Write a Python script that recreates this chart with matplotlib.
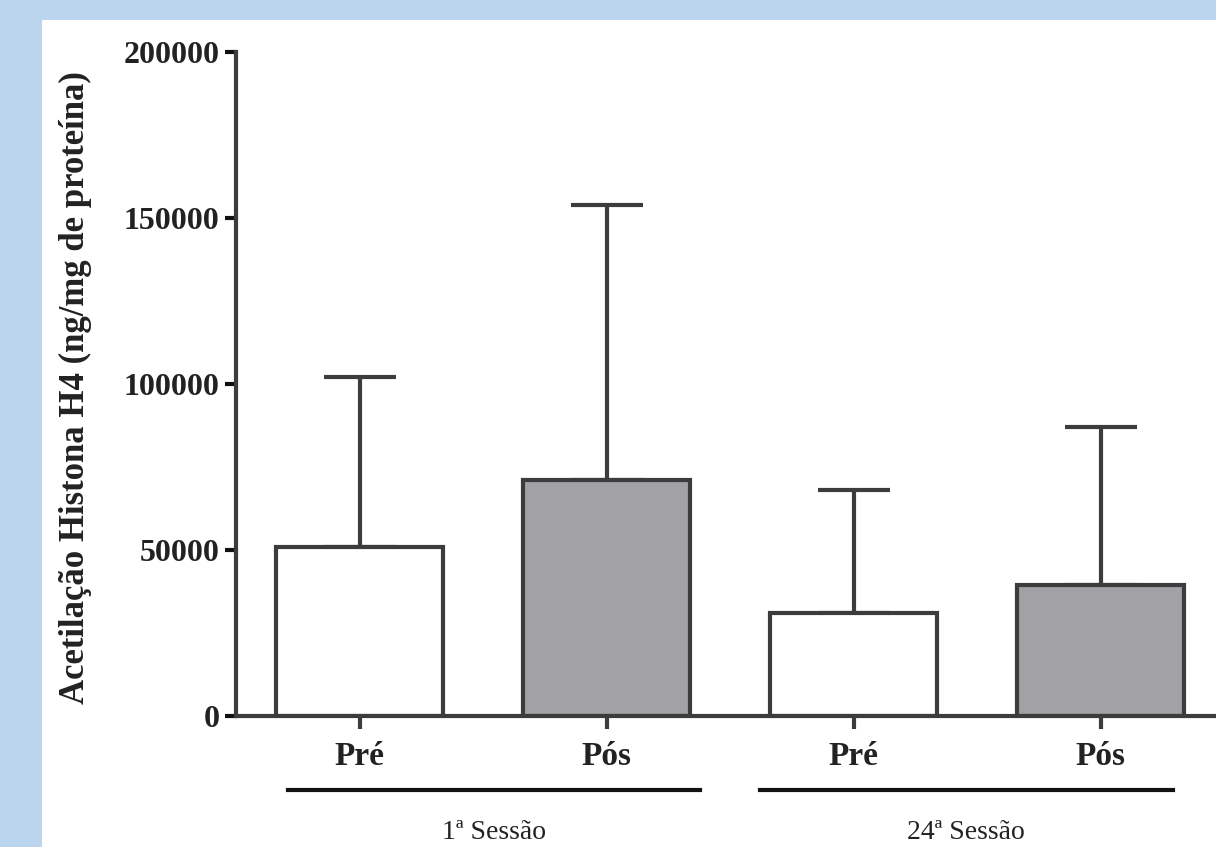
#--Import libraries--#
import numpy as np
import matplotlib.pyplot as plt
import matplotlib.transforms as mtransforms
from matplotlib.patches import Rectangle

#--Data--#
conditions = ['Pré', 'Pós', 'Pré', 'Pós']
sessions = ['1ª Sessão', '24ª Sessão']
means = [51000, 71000, 31000, 39500]
sd = [51000, 83000, 37000, 47500]
yticks = [0, 50000, 100000, 150000, 200000]

plt.rcParams['font.family'] = ['Liberation Serif', 'DejaVu Serif']

fig = plt.figure(figsize=(12.16, 8.47), dpi=100)
fig.patch.set_facecolor('#bad5ed')
# white panel inside the light blue frame
fig.patches.append(Rectangle((42 / 1216, 0), 1, 827 / 847, transform=fig.transFigure,
                             facecolor='white', edgecolor='none', zorder=-10))

ax = fig.add_axes([236 / 1216, 131 / 847, 1 - 236 / 1216, 664 / 847])
ax.set_facecolor('none')

x = np.arange(len(means))
dark = '#3c3c3c'
colors = ['white', '#a2a2a6', 'white', '#a2a2a6']
ax.bar(x, means, width=0.676, color=colors, edgecolor=dark, linewidth=3, zorder=3)
ax.errorbar(x, means, yerr=[np.zeros(len(sd)), sd], fmt='none', ecolor=dark,
            elinewidth=3, capsize=26, capthick=3, zorder=2)

#--Axes styling--#
ax.set_xlim(-0.5, 3.466)
ax.set_ylim(0, 200000)
ax.set_yticks(yticks)
ax.set_yticklabels([str(t) for t in yticks], fontsize=23, fontweight='bold')
ax.set_xticks(x)
ax.set_xticklabels(conditions, fontsize=24, fontweight='bold')
for s in ['top', 'right']:
    ax.spines[s].set_visible(False)
for s in ['left', 'bottom']:
    ax.spines[s].set_color(dark)
    ax.spines[s].set_linewidth(3)
ax.tick_params(axis='y', length=8, width=3, color='#111111', pad=4, colors='#222222')
ax.tick_params(axis='x', length=9, width=3, color=dark, pad=9, colors='#222222')
ax.spines['left'].set_zorder(4)
ax.spines['bottom'].set_zorder(4)

ax.set_ylabel('Acetilação Histona H4 (ng/mg de proteína)', fontsize=25,
              fontweight='bold', color='#222222')
ax.yaxis.set_label_coords(-0.147, 0.495)

#--Session group lines and labels--#
trans = mtransforms.blended_transform_factory(ax.transData, ax.transAxes)
groups = [(-0.29, 1.376), (1.62, 3.29)]
for (x0, x1), name in zip(groups, sessions):
    ax.plot([x0, x1], [-0.111, -0.111], color='#111111', lw=3,
            transform=trans, clip_on=False)
    ax.text((x0 + x1) / 2, -0.175, name, transform=trans, ha='center', va='center',
            fontsize=20, color='#222222')

plt.savefig('out.png', dpi=100, facecolor=fig.get_facecolor())
